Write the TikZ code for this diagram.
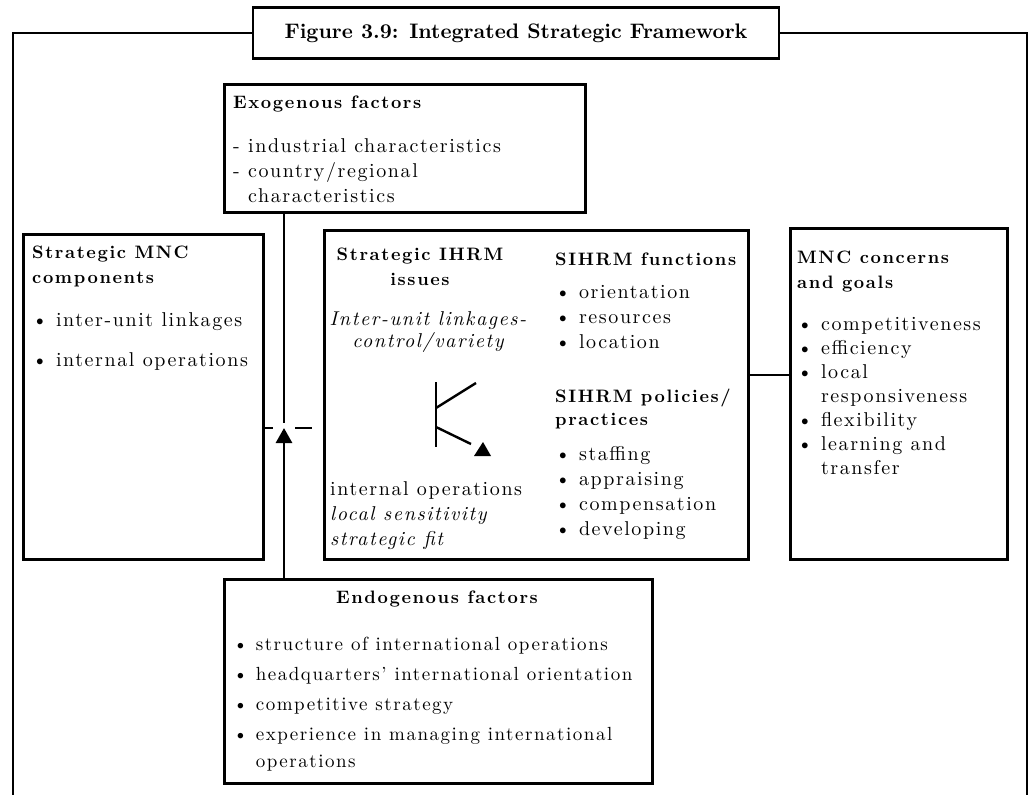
\documentclass[tikz,border=0pt]{standalone}
\usepackage{fontspec}
\setmainfont{lmroman10}[Extension=.otf, UprightFont=*-regular, BoldFont=*-bold, ItalicFont=*-italic, BoldItalicFont=*-bolditalic]
\usetikzlibrary{arrows.meta}

\begin{document}
\begin{tikzpicture}[x=1pt, y=-1pt,
						framebox/.style={rectangle, draw=black, line width=2.8pt, fill=white, inner sep=0pt, anchor=north west},
						titlebox/.style={rectangle, draw=black, line width=2.8pt, fill=white, minimum width=526pt, minimum height=51pt, font=\fontsize{21}{25}\selectfont\bfseries},
						headtext/.style={anchor=base west, inner sep=0pt, align=left, font=\fontsize{18}{25}\selectfont\addfontfeatures{LetterSpace=9}\bfseries},
						bodytext/.style={anchor=base west, inner sep=0pt, align=left, font=\fontsize{20}{25}\selectfont\addfontfeatures{LetterSpace=8}},
						link/.style={line width=2.8pt}
					]
					\useasboundingbox (0,0) rectangle (1029,795);
					% outer frame
					\coordinate (frameTL) at (13,33);
					\coordinate (frameTR) at (1027,33);
					\coordinate (frameBL) at (13,795);
					\coordinate (frameBR) at (1027,795);
					\node[titlebox] (title) at (516,33) {Figure 3.9: Integrated Strategic Framework};
					\draw[link] (title.west) -- (frameTL) -- (frameBL);
					\draw[link] (title.east) -- (frameTR) -- (frameBR);
					% boxes
					\node[framebox, minimum width=361pt, minimum height=128pt] (exo) at (223,83) {};
					\node[framebox, minimum width=240pt, minimum height=325pt] (mnc) at (22,233) {};
					\node[framebox, minimum width=424pt, minimum height=329pt] (ihrm) at (323,229) {};
					\node[framebox, minimum width=217pt, minimum height=331pt] (goals) at (789,227) {};
					\node[framebox, minimum width=428pt, minimum height=204pt] (endo) at (223,578) {};
					% texts (multi-line nodes sit on their last baseline)
					\node[headtext] (exohead) at (233,108) {Exogenous factors};
					\node[bodytext] (exolist) at (233,202) {- industrial characteristics\\- country/regional\\\phantom{- }characteristics};
					\node[headtext] (mnchead) at (32,283) {Strategic MNC\\components};
					\node[bodytext] (mnclist) at (32,366) {\textbullet\ inter-unit linkages\\[15pt]\textbullet\ internal operations};
					\node[headtext, anchor=base, align=center] (ihrmhead) at (420,285) {Strategic IHRM\\issues};
					\node[bodytext, anchor=base, align=center] (linkages) at (428,347) {\itshape Inter-unit linkages-\\[-3pt]\itshape control/variety};
					\node[bodytext] (ops) at (330,545) {internal operations\\\textit{local sensitivity}\\\textit{strategic fit}};
					\node[headtext] (funchead) at (555,265) {SIHRM functions};
					\node[bodytext] (funclist) at (555,348) {\textbullet\ orientation\\\textbullet\ resources\\\textbullet\ location};
					\node[headtext] (polhead) at (555,425) {SIHRM policies/\\[-2pt]practices};
					\node[bodytext] (pollist) at (555,535) {\textbullet\ staffing\\\textbullet\ appraising\\\textbullet\ compensation\\\textbullet\ developing};
					\node[headtext] (goalshead) at (797,288) {MNC concerns\\and goals};
					\node[bodytext] (goalslist) at (797,474) {\textbullet\ competitiveness\\[-1pt]\textbullet\ efficiency\\[-1pt]\textbullet\ local\\[-1pt]\phantom{\textbullet\ }responsiveness\\[-1pt]\textbullet\ flexibility\\[-1pt]\textbullet\ learning and\\[-1pt]\phantom{\textbullet\ }transfer};
					\node[headtext, anchor=base] (endohead) at (437,603) {Endogenous factors};
					\node[bodytext, font=\fontsize{19}{25}\selectfont\addfontfeatures{LetterSpace=8}] (endolist) at (233,767) {\textbullet\ structure of international operations\\[5pt]\textbullet\ headquarters' international orientation\\[5pt]\textbullet\ competitive strategy\\[5pt]\textbullet\ experience in managing international\\[2pt]\phantom{\textbullet\ }operations};
					% connectors
					\coordinate (jtop) at (284,423);
					\coordinate (junction) at (284,428);
					\coordinate (dashL) at (273,428);
					\coordinate (dashR) at (295,428);
					\coordinate (dashRend) at (312,428);
					\coordinate (gjoin) at (768,375);
					\draw[link] (exo.south -| jtop) -- (jtop);
					\draw[link, -{Triangle[width=16pt, length=15pt]}] (endo.north -| junction) -- (junction);
					\draw[link] (mnc.east |- junction) -- (dashL);
					\draw[link] (dashR) -- (dashRend);
					\draw[link] (ihrm.east |- gjoin) -- (goals.west |- gjoin);
					% T symbol in the IHRM box
					\coordinate (tsym) at (436,382);
					\draw[line width=2.4pt] (tsym) -- (436,447);
					\draw[line width=2.4pt] (436,408) -- (476,383);
					\draw[line width=2.4pt] (436,427) -- (471,444);
					\fill (474,456) -- (491,456) -- (483,442) -- cycle;
					\end{tikzpicture}
\end{document}
